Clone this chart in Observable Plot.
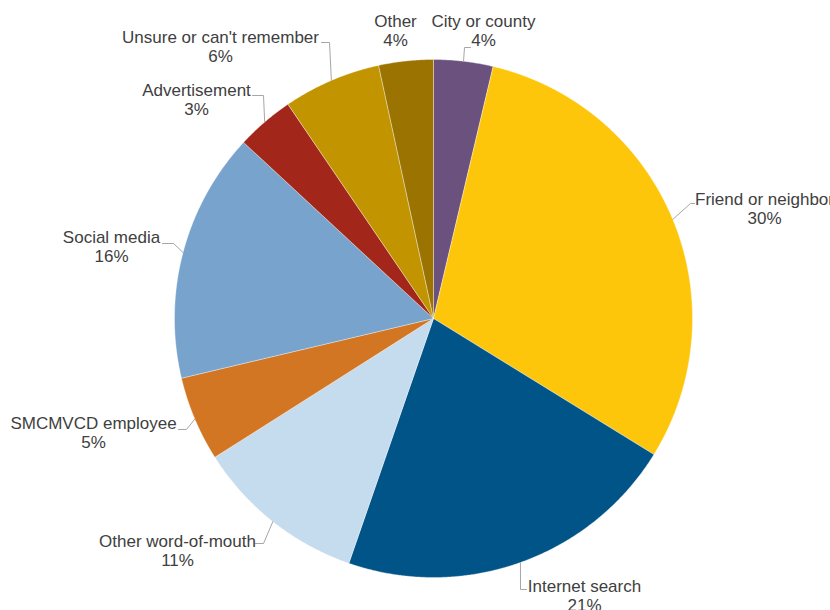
<!DOCTYPE html>
<html>
<head>
<meta charset="utf-8">
<script src="https://cdn.jsdelivr.net/npm/d3@7"></script>
<script src="https://cdn.jsdelivr.net/npm/@observablehq/plot@0.6"></script>
<style>
  html, body { margin: 0; padding: 0; background: #ffffff; }
  #chart { width: 830px; height: 610px; overflow: hidden; }
</style>
</head>
<body>
<div id="chart"></div>
<script>
// ---- data ----
const names = ["City or county", "Friend or neighbor", "Internet search", "Other word-of-mouth",
  "SMCMVCD employee", "Social media", "Advertisement", "Unsure or can't remember", "Other"];
const values = [3.7, 30.1, 21.5, 10.7, 5.3, 15.6, 3.6, 6.1, 3.4];
const pctLabels = ["4%", "30%", "21%", "11%", "5%", "16%", "3%", "6%", "4%"];

// ---- styles / layout ----
const colors = ["#6b527e", "#fec60b", "#005487", "#c5dbee", "#d27624", "#77a3cc", "#a2261a", "#c29400", "#9a7300"];
const W = 830, H = 610, CX = 433, CY = 318, R = 259;
// label block centres (pixels)
const labelPos = [[483, 30], [764, 208], [584, 595], [177, 550], [93, 432], [111, 246], [196, 99], [220, 46], [395, 30]];
// leader elbow (pixels) and horizontal tail length (signed), null = no leader
const elbows = [[464, 47, 6], [690, 203, 4], [520, 589, 6], [263, 543, -8], [186, 429, -8], [173, 243, -11], [263, 95, -11], [329, 42, -8], null];

const toX = px => px - CX;
const toY = py => CY - py;

const arcs = d3.pie().sort(null).value(d => d)(values);

const slicePts = [];
arcs.forEach((a, i) => {
  const name = names[i];
  slicePts.push({name, x: 0, y: 0});
  const n = Math.max(4, Math.ceil((a.endAngle - a.startAngle) / 0.005));
  for (let k = 0; k <= n; k++) {
    const t = a.startAngle + (a.endAngle - a.startAngle) * k / n;
    slicePts.push({name, x: R * Math.sin(t), y: R * Math.cos(t)});
  }
  slicePts.push({name, x: 0, y: 0});
});

const leaderPts = [];
arcs.forEach((a, i) => {
  const e = elbows[i];
  if (!e) return;
  const m = (a.startAngle + a.endAngle) / 2;
  const name = names[i];
  leaderPts.push({name, x: R * Math.sin(m), y: R * Math.cos(m)});
  leaderPts.push({name, x: toX(e[0]), y: toY(e[1])});
  leaderPts.push({name, x: toX(e[0] + e[2]), y: toY(e[1])});
});

const labels = names.map((n, i) => ({
  name: n,
  text: n + "\n" + pctLabels[i],
  x: toX(labelPos[i][0]),
  y: toY(labelPos[i][1])
}));

const chart = Plot.plot({
  width: W,
  height: H,
  margin: 0,
  style: {background: "#ffffff", fontFamily: "'Liberation Sans', Arial, sans-serif", overflow: "hidden"},
  x: {domain: [-CX, W - CX], axis: null},
  y: {domain: [CY - H, CY], axis: null},
  color: {domain: names, range: colors},
  marks: [
    Plot.line(slicePts, {x: "x", y: "y", z: "name", fill: "name", stroke: "#ffffff", strokeWidth: 0.6, strokeOpacity: 0.6, curve: "linear"}),
    Plot.line(leaderPts, {x: "x", y: "y", z: "name", stroke: "#a6a6a6", strokeWidth: 1, curve: "linear"}),
    Plot.text(labels, {x: "x", y: "y", text: "text", fontSize: 17, fill: "#404040", lineHeight: 1.12, lineAnchor: "middle", textAnchor: "middle"})
  ]
});
document.getElementById("chart").appendChild(chart);
</script>
</body>
</html>
